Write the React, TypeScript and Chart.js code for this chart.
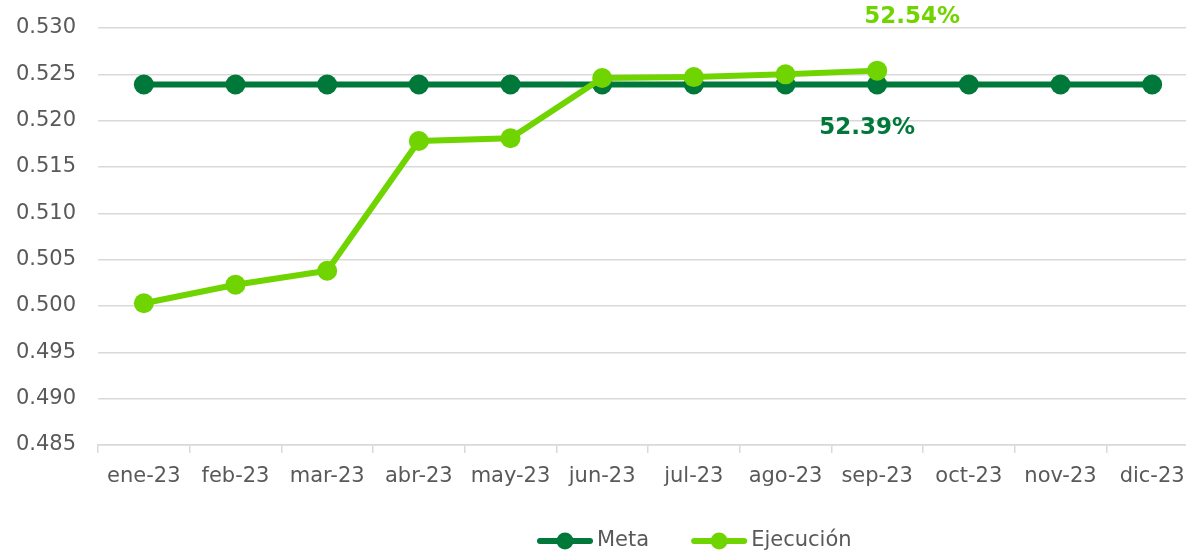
import React, { useEffect, useRef } from "react";
import { Chart, registerables } from "chart.js";

Chart.register(...registerables);

const categories = [
  "ene-23", "feb-23", "mar-23", "abr-23", "may-23", "jun-23",
  "jul-23", "ago-23", "sep-23", "oct-23", "nov-23", "dic-23",
];
const metaValues = [
  0.5239, 0.5239, 0.5239, 0.5239, 0.5239, 0.5239,
  0.5239, 0.5239, 0.5239, 0.5239, 0.5239, 0.5239,
];
const ejecucionValues = [
  0.5003, 0.5023, 0.5038, 0.5178, 0.5181, 0.5246,
  0.5247, 0.5250, 0.5254, null, null, null,
];
const seriesNames = ["Meta", "Ejecución"];
const seriesColors = ["#00783A", "#70D400"];
const labelIndex = 8;
const yMin = 0.485;
const yMax = 0.53;
const yStep = 0.005;

const FONT = "'DejaVu Sans', Verdana, sans-serif";
const TEXT = "#595959";
const GRID = "#d9d9d9";

const valueLabelPlugin = {
  id: "valueLabels",
  afterDatasetsDraw(chart: any) {
    const ctx = chart.ctx;
    ctx.save();
    ctx.font = `bold 23px ${FONT}`;
    ctx.textAlign = "center";
    ctx.textBaseline = "middle";
    const offsets = [
      { dx: -10, dy: 44 },
      { dx: 35, dy: -54 },
    ];
    chart.data.datasets.forEach((ds: any, i: number) => {
      const meta = chart.getDatasetMeta(i);
      const el = meta.data[labelIndex];
      const v = ds.data[labelIndex];
      if (!el || v == null) return;
      ctx.fillStyle = seriesColors[i];
      ctx.fillText((v * 100).toFixed(2) + "%", el.x + offsets[i].dx, el.y + offsets[i].dy);
    });
    ctx.restore();
  },
};

const legendPlugin = {
  id: "customLegend",
  afterDraw(chart: any) {
    const ctx = chart.ctx;
    ctx.save();
    ctx.font = `21px ${FONT}`;
    ctx.textBaseline = "middle";
    ctx.textAlign = "left";
    let x = 537;
    const y = 541;
    chart.data.datasets.forEach((ds: any, i: number) => {
      const color = seriesColors[i];
      ctx.strokeStyle = color;
      ctx.lineWidth = 6;
      ctx.lineCap = "round";
      ctx.beginPath();
      ctx.moveTo(x + 3, y);
      ctx.lineTo(x + 53, y);
      ctx.stroke();
      ctx.fillStyle = color;
      ctx.beginPath();
      ctx.arc(x + 28, y, 8.5, 0, Math.PI * 2);
      ctx.fill();
      ctx.fillStyle = TEXT;
      ctx.fillText(ds.label, x + 60, y);
      const w = ctx.measureText(ds.label).width;
      x += 60 + w + 42;
    });
    ctx.restore();
  },
};

export default function App() {
  const canvasRef = useRef<HTMLCanvasElement | null>(null);

  useEffect(() => {
    if (!canvasRef.current) return;
    const chart = new Chart(canvasRef.current, {
      type: "line",
      data: {
        labels: categories,
        datasets: [
          {
            label: seriesNames[0],
            data: metaValues,
            borderColor: seriesColors[0],
            backgroundColor: seriesColors[0],
            pointBackgroundColor: seriesColors[0],
            pointBorderColor: seriesColors[0],
            borderWidth: 6,
            pointRadius: 10,
            pointBorderWidth: 0,
            tension: 0,
            order: 2,
          },
          {
            label: seriesNames[1],
            data: ejecucionValues,
            borderColor: seriesColors[1],
            backgroundColor: seriesColors[1],
            pointBackgroundColor: seriesColors[1],
            pointBorderColor: seriesColors[1],
            borderWidth: 6,
            pointRadius: 10,
            pointBorderWidth: 0,
            tension: 0,
            spanGaps: false,
            order: 1,
          },
        ],
      },
      options: {
        responsive: false,
        animation: false,
        devicePixelRatio: 1,
        layout: { padding: { top: 28, left: 0, right: 0, bottom: 0 } },
        plugins: {
          legend: { display: false },
          tooltip: { enabled: false },
        },
        scales: {
          x: {
            offset: true,
            grid: {
              offset: true,
              drawOnChartArea: false,
              drawTicks: true,
              tickLength: 8,
              color: GRID,
              lineWidth: 1.5,
            },
            border: { display: true, color: GRID, width: 1.5 },
            ticks: {
              color: TEXT,
              font: { family: FONT, size: 21 },
              padding: 11,
              maxRotation: 0,
              autoSkip: false,
            },
            afterFit: (scale: any) => {
              scale.height = 111;
            },
          },
          y: {
            min: yMin,
            max: yMax,
            grid: {
              color: GRID,
              lineWidth: 1.5,
              drawTicks: true,
              tickLength: 22,
              tickColor: "rgba(0,0,0,0)",
            },
            border: { display: false },
            ticks: {
              stepSize: yStep,
              color: TEXT,
              font: { family: FONT, size: 21 },
              padding: 0,
              callback: (v: any) => Number(v).toFixed(3),
            },
            afterFit: (scale: any) => {
              scale.width = 98;
            },
          },
        },
      },
      plugins: [valueLabelPlugin, legendPlugin],
    });
    return () => chart.destroy();
  }, []);

  return (
    <div
      style={{
        position: "absolute",
        left: 0,
        top: 0,
        width: 1186,
        height: 556,
        overflow: "hidden",
        background: "#fff",
      }}
    >
      <canvas
        ref={canvasRef}
        width={1208}
        height={556}
        style={{ width: 1208, height: 556, display: "block" }}
      />
    </div>
  );
}
